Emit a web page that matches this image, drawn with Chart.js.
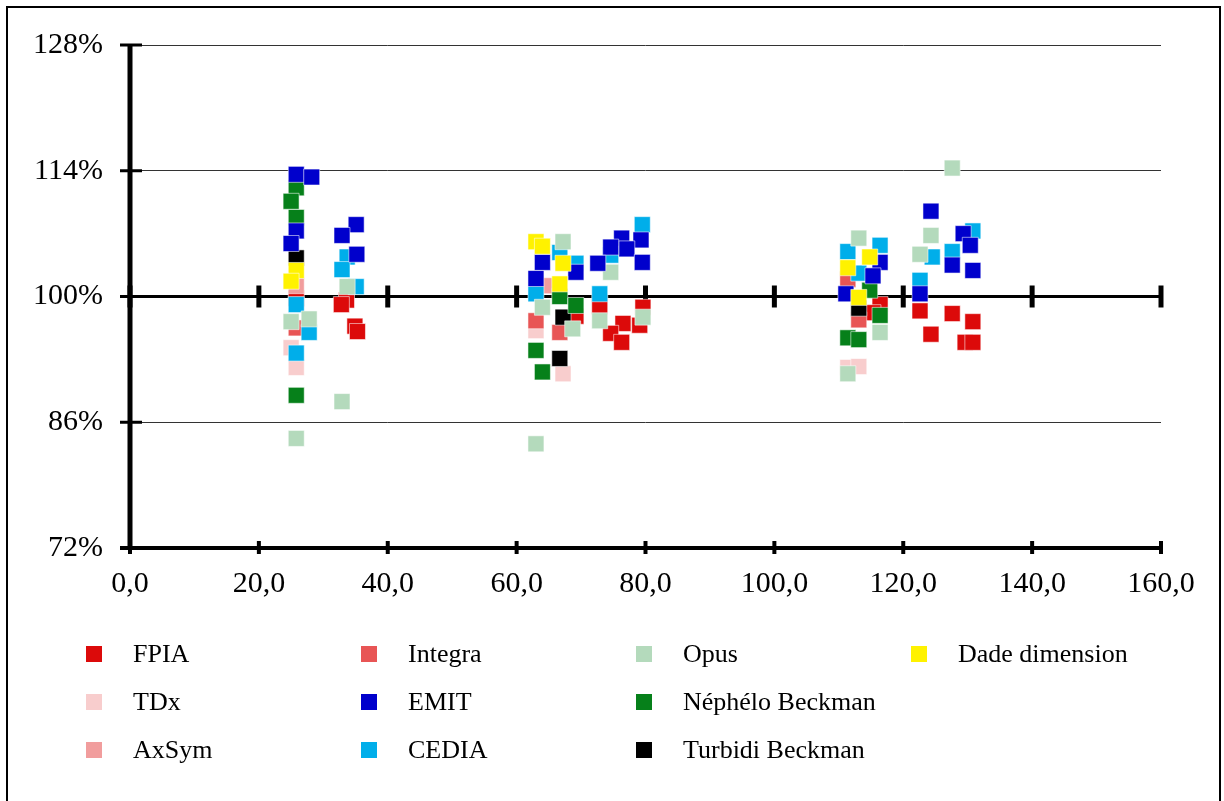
<!DOCTYPE html>
<html lang="fr">
<head>
<meta charset="utf-8">
<title>Dispersion des résultats</title>
<script src="https://cdn.jsdelivr.net/npm/chart.js@4.4.1/dist/chart.umd.min.js"></script>
<style>
  html, body { margin: 0; padding: 0; background: #fff; overflow: hidden; }
  #wrap { position: relative; width: 1224px; height: 801px; }
  #chart { position: absolute; left: 0; top: 0; }
  .leg { position: absolute; display: flex; align-items: center; font-family: "Liberation Serif", "Times New Roman", serif; font-size: 26px; color: #000; white-space: nowrap; }
  .leg .box { width: 16px; height: 16px; margin-right: 31px; }
</style>
</head>
<body>
<div id="wrap">
  <canvas id="chart" width="1224" height="801"></canvas>
  <div id="legend"></div>
</div>
<script>
'use strict';

// axis ticks
const xTicks = [0, 20, 40, 60, 80, 100, 120, 140, 160];
const yTicks = [72, 86, 100, 114, 128];

// series, [x, y%] pairs
const fpia = [[25.8, 99.8], [33.6, 99.6], [32.8, 99.1], [34.9, 96.7], [35.3, 96.1],
  [69.2, 97.8], [72.9, 98.9], [79.6, 98.8], [76.5, 97.0], [79.1, 96.8], [74.6, 95.9], [76.3, 94.9],
  [116.4, 99.1], [115.3, 98.2], [122.6, 98.4], [127.6, 98.1], [130.8, 97.2], [124.3, 95.8], [129.6, 94.9], [130.8, 94.9]];
const tdx = [[25.0, 94.3], [25.8, 92.1], [63.0, 96.2], [67.2, 91.4], [111.4, 92.1], [113.1, 92.2]];
const axsym = [[25.8, 101.2], [64.7, 101.2]];
const integra = [[25.8, 96.5], [63.0, 97.3], [66.7, 96.0], [111.4, 101.9], [113.1, 97.4]];
const emit = [[25.8, 113.6], [28.2, 113.3], [25.8, 107.3], [25.0, 105.9], [35.1, 108.0], [32.9, 106.8], [35.2, 104.7],
  [64.0, 103.8], [69.2, 102.7], [63.0, 102.0], [76.3, 106.5], [79.3, 106.3], [77.1, 105.3], [74.6, 105.5], [79.5, 103.8], [72.6, 103.7],
  [124.3, 109.5], [129.3, 107.0], [130.4, 105.7], [116.4, 103.8], [127.6, 103.5], [130.8, 102.9], [115.3, 102.3], [122.6, 100.3], [111.1, 100.3]];
const cedia = [[25.8, 99.1], [27.8, 96.0], [25.8, 93.7], [33.7, 104.4], [32.9, 103.0], [35.1, 101.1],
  [66.7, 104.9], [69.2, 103.7], [63.0, 100.3], [79.5, 108.0], [74.6, 104.6], [72.9, 100.3],
  [130.8, 107.3], [116.4, 105.7], [111.4, 105.0], [124.5, 104.4], [127.6, 105.0], [113.1, 102.6], [122.6, 101.8]];
const opus = [[25.0, 97.2], [27.8, 97.5], [25.8, 84.2], [33.7, 101.1], [32.9, 88.3],
  [67.2, 106.1], [64.0, 98.8], [68.7, 96.4], [63.0, 83.6], [74.6, 102.7], [72.9, 97.3], [79.6, 97.7],
  [127.6, 114.3], [113.1, 106.5], [124.3, 106.8], [122.6, 104.7], [116.4, 96.0], [111.4, 91.4]];
const nephelo = [[25.8, 112.1], [25.0, 110.6], [25.8, 108.8], [25.8, 89.0],
  [66.7, 100.0], [69.2, 99.0], [63.0, 94.0], [64.0, 91.6],
  [114.8, 100.7], [116.4, 97.9], [111.4, 95.4], [113.1, 95.2]];
const turbidi = [[25.8, 104.3], [67.2, 97.7], [66.7, 93.1], [113.1, 98.7]];
const dade = [[25.8, 102.9], [25.0, 101.7], [63.0, 106.1], [64.0, 105.6], [67.2, 103.7], [66.7, 101.4],
  [114.8, 104.4], [111.4, 103.2], [113.1, 99.9]];

// legend is filled column by column (3 rows); "order" = draw weight, higher is drawn first
const series = [
  { label: 'FPIA', pts: fpia, color: '#DC0A0A', order: 10 },
  { label: 'TDx', pts: tdx, color: '#F8CDCD', order: 9 },
  { label: 'AxSym', pts: axsym, color: '#F19D9D', order: 7 },
  { label: 'Integra', pts: integra, color: '#E85555', order: 8 },
  { label: 'EMIT', pts: emit, color: '#0000CC', order: 2 },
  { label: 'CEDIA', pts: cedia, color: '#00AEEA', order: 5 },
  { label: 'Opus', pts: opus, color: '#B4DABC', order: 4 },
  { label: 'Néphélo Beckman', pts: nephelo, color: '#06801A', order: 3 },
  { label: 'Turbidi Beckman', pts: turbidi, color: '#000000', order: 6 },
  { label: 'Dade dimension', pts: dade, color: '#FFF200', order: 1 }
];

const FONT = '"Liberation Serif", "Times New Roman", serif';

// heavy axis lines with cross ticks, Excel style
const axesPlugin = {
  id: 'axesPlugin',
  beforeDraw(chart) {
    const { ctx } = chart;
    ctx.save();
    ctx.fillStyle = '#fff';
    ctx.fillRect(0, 0, chart.width, chart.height);
    ctx.strokeStyle = '#000';
    ctx.lineWidth = 2;
    ctx.strokeRect(7, 7, 1213, 820);
    ctx.restore();
  },
  beforeDatasetsDraw(chart) {
    const { ctx, chartArea, scales: { x, y } } = chart;
    const y100 = y.getPixelForValue(100);
    ctx.save();
    ctx.strokeStyle = '#000';
    ctx.lineWidth = 3;
    ctx.beginPath();
    ctx.moveTo(chartArea.left - 10, y100);
    ctx.lineTo(chartArea.right, y100);
    ctx.stroke();
    ctx.lineWidth = 5;
    xTicks.forEach((v) => {
      const px = x.getPixelForValue(v);
      ctx.beginPath();
      ctx.moveTo(px, y100 - 11);
      ctx.lineTo(px, y100 + 11);
      ctx.stroke();
    });
    ctx.restore();
  },
  afterDatasetsDraw(chart) {
    const { ctx, chartArea, scales: { x, y } } = chart;
    ctx.save();
    ctx.strokeStyle = '#000';
    // bottom axis
    ctx.lineWidth = 4;
    ctx.beginPath();
    ctx.moveTo(chartArea.left - 10, chartArea.bottom);
    ctx.lineTo(chartArea.right, chartArea.bottom);
    ctx.stroke();
    xTicks.forEach((v) => {
      const px = x.getPixelForValue(v);
      ctx.beginPath();
      ctx.moveTo(px, chartArea.bottom - 7);
      ctx.lineTo(px, chartArea.bottom + 6);
      ctx.stroke();
    });
    // left axis
    ctx.lineWidth = 5;
    ctx.beginPath();
    ctx.moveTo(chartArea.left, chartArea.top);
    ctx.lineTo(chartArea.left, chartArea.bottom);
    ctx.stroke();
    ctx.lineWidth = 3;
    yTicks.forEach((v) => {
      const py = y.getPixelForValue(v);
      ctx.beginPath();
      ctx.moveTo(chartArea.left - 10, py);
      ctx.lineTo(chartArea.left + 12, py);
      ctx.stroke();
    });
    ctx.restore();
  }
};

const chart = new Chart(document.getElementById('chart'), {
  type: 'scatter',
  data: {
    datasets: series.map((s) => ({
      label: s.label,
      data: s.pts.map(([px, py]) => ({ x: px, y: py })),
      order: s.order,
      pointStyle: 'rect',
      pointRadius: 11.3,
      pointHoverRadius: 11.3,
      backgroundColor: s.color,
      borderColor: 'rgba(255,255,255,0.55)',
      borderWidth: 1
    }))
  },
  options: {
    responsive: false,
    animation: false,
    layout: { padding: { top: 45, right: 63, left: 0, bottom: 0 } },
    plugins: { legend: { display: false }, tooltip: { enabled: false } },
    scales: {
      x: {
        type: 'linear',
        min: 0,
        max: 160,
        afterFit: (scale) => { scale.height = 253; },
        afterBuildTicks: (scale) => { scale.ticks = xTicks.map((v) => ({ value: v })); },
        grid: { display: false },
        border: { display: false },
        ticks: {
          padding: 10,
          color: '#000',
          font: { family: FONT, size: 30 },
          maxRotation: 0,
          callback: (v) => v.toFixed(1).replace('.', ',')
        }
      },
      y: {
        type: 'linear',
        min: 72,
        max: 128,
        afterFit: (scale) => { scale.width = 130; },
        afterBuildTicks: (scale) => { scale.ticks = yTicks.map((v) => ({ value: v })); },
        grid: { color: '#333', lineWidth: 1, drawTicks: false },
        border: { display: false },
        ticks: {
          padding: 27,
          color: '#000',
          font: { family: FONT, size: 30 },
          callback: (v) => v + '%'
        }
      }
    }
  },
  plugins: [axesPlugin]
});

// legend in a fixed grid, 3 rows per column like the original
const legend = document.getElementById('legend');
chart.data.datasets.forEach((ds, i) => {
  const col = Math.floor(i / 3);
  const row = i % 3;
  const item = document.createElement('div');
  item.className = 'leg';
  item.style.left = (86 + col * 275) + 'px';
  item.style.top = (654 + row * 48 - 16) + 'px';
  item.style.height = '32px';
  item.innerHTML = `<span class="box" style="background:${ds.backgroundColor}"></span><span>${ds.label}</span>`;
  legend.appendChild(item);
});
</script>
</body>
</html>
